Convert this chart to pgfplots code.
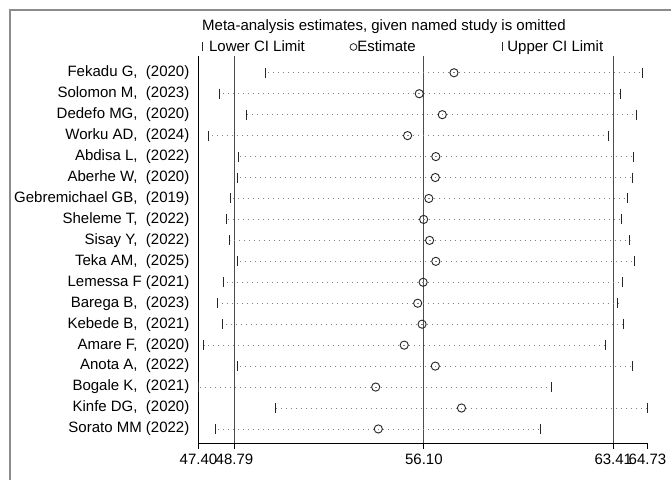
\documentclass[border=0pt]{standalone}
\usepackage{pgfplots}
\pgfplotsset{compat=1.18}
\usepackage{pgfplotstable}
\usepackage{fontspec}
\setmainfont{Liberation Sans}
\pgfplotstableread{
row lo est hi
18 49.98 57.26 64.53
17 48.21 55.92 63.69
16 49.27 56.81 64.30
15 47.80 55.47 63.23
14 48.96 56.56 64.19
13 48.89 56.54 64.14
12 48.65 56.29 63.95
11 48.50 56.09 63.73
10 48.60 56.32 64.04
9 48.92 56.56 64.23
8 48.38 56.07 63.76
7 48.15 55.86 63.59
6 48.32 56.03 63.80
5 47.61 55.34 63.10
4 48.92 56.54 64.15
3 47.40 54.24 61.03
2 50.37 57.55 64.73
1 48.07 54.34 60.61
}\ninf
\newcommand{\ff}{\fontsize{15bp}{18bp}\selectfont}
\begin{document}
\begin{tikzpicture}
\useasboundingbox (0,0) rectangle (671bp,480bp);
\fill[white] (0,0) rectangle (671bp,480bp);
\draw[black!45, line width=1.2bp] (10bp,-20bp) -- (10bp,470bp) -- (690bp,470bp);
\begin{axis}[
  at={(198.5bp,37bp)}, anchor=south west,
  scale only axis, width=449bp, height=387bp,
  xmin=47.40, xmax=64.73, ymin=0.33, ymax=18.8,
  axis x line=bottom, axis y line=left,
  axis line style={-, black, line width=1bp},
  clip=false,
  tick align=outside, major tick length=6bp,
  xtick={47.40,48.79,56.10,63.41,64.73},
  xticklabels={47.40,48.79,56.10,63.41,64.73},
  ytick={1,...,18},
  yticklabels={{Sorato MM (2022)},{Kinfe DG,\ \ (2020)},{Bogale K,\ \ (2021)},{Anota A,\ \ (2022)},{Amare F,\ \ (2020)},{Kebede B,\ \ (2021)},{Barega B,\ \ (2023)},{Lemessa F (2021)},{Teka AM,\ \ (2025)},{Sisay Y,\ \ (2022)},{Sheleme T,\ \ (2022)},{Gebremichael GB,\ \ (2019)},{Aberhe W,\ \ (2020)},{Abdisa L,\ \ (2022)},{Worku AD,\ \ (2024)},{Dedefo MG,\ \ (2020)},{Solomon M,\ \ (2023)},{Fekadu G,\ \ (2020)}},
  ytick style={draw=none},
  xtick style={black, line width=1bp},
  tick label style={font=\ff},
  xticklabel style={yshift=-2bp},
  yticklabel style={inner xsep=0pt, xshift=-3bp},
  title={Meta-analysis estimates, given named study is omitted},
  title style={at={(axis description cs:0.0078,1.0517)}, anchor=base west, inner sep=0pt, font=\ff},
  legend style={at={(axis description cs:0.0075,1.0233)}, anchor=west, draw=none, fill=none,
    inner sep=0pt, outer sep=0pt, /tikz/column sep=0pt, nodes={inner sep=0pt}, font=\ff},
  legend columns=3, legend cell align=left,
]
% overall estimate and CI lines
\addplot[forget plot, black!70, line width=1.1bp] coordinates {(48.79,0.33) (48.79,18.8)};
\addplot[forget plot, black!70, line width=1.1bp] coordinates {(56.10,0.33) (56.10,18.8)};
\addplot[forget plot, black!70, line width=1.1bp] coordinates {(63.41,0.33) (63.41,18.8)};
% dotted ranges
\addplot[forget plot, draw=none, mark=none,
  error bars/.cd, x dir=both, x explicit, error mark=none,
  error bar style={draw=black!50, line width=0.8bp, dash pattern=on 0.8bp off 4.2bp}]
  table[x=est, y=row, x error plus expr=\thisrow{hi}-\thisrow{est}, x error minus expr=\thisrow{est}-\thisrow{lo}] {\ninf};
% lower limits
\addplot[only marks, mark=|, mark size=5bp, mark options={black!85, line width=1bp},
  legend image code/.code={\draw[black!85, line width=0.9bp] (0bp,-4.5bp) -- (0bp,4.5bp);}]
  table[x=lo, y=row] {\ninf};
\addlegendentry{\makebox[146.9bp][l]{\hspace{6.3bp}Lower CI Limit}}
% estimates
\addplot[only marks, mark=o, mark size=4.1bp, mark options={draw=black!85, fill=none, line width=0.9bp},
  legend image code/.code={\draw[black!85, line width=0.8bp] (0bp,0bp) circle[radius=3.4bp];}]
  table[x=est, y=row] {\ninf};
\addlegendentry{\makebox[144.7bp][l]{Estimate}}
% upper limits
\addplot[only marks, mark=|, mark size=5bp, mark options={black!85, line width=1bp},
  legend image code/.code={\draw[black!85, line width=0.9bp] (0bp,-4.5bp) -- (0bp,4.5bp);}]
  table[x=hi, y=row] {\ninf};
\addlegendentry{\hspace{4.5bp}Upper CI Limit}
\end{axis}
\end{tikzpicture}
\end{document}
